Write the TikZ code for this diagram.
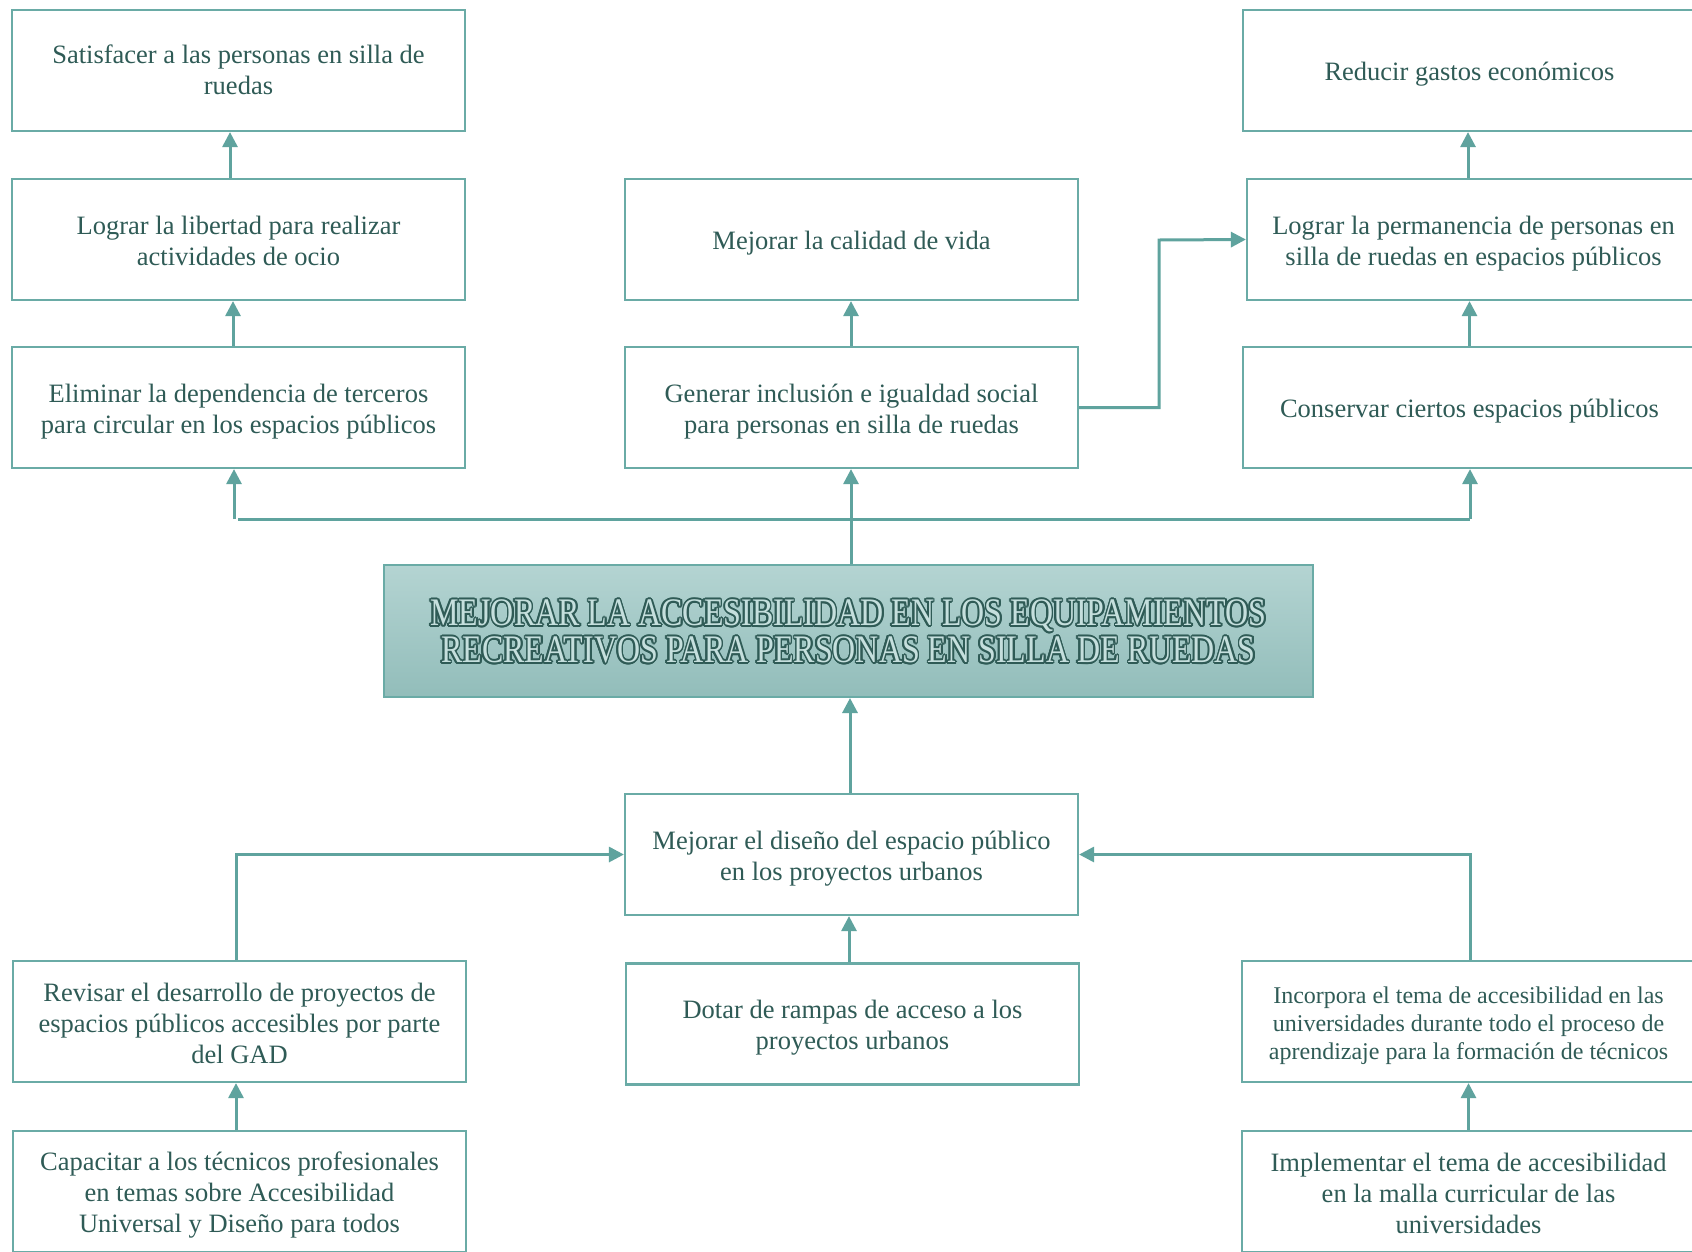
\documentclass[tikz,border=0pt]{standalone}
\usepackage{fontspec}
\setmainfont{Liberation Serif}
\newfontfamily\condfont[FakeStretch=0.82]{Liberation Serif}
\usetikzlibrary{arrows.meta,calc}
\definecolor{lineC}{HTML}{5FA39E}
\definecolor{boxC}{HTML}{6AABA6}
\definecolor{txtC}{HTML}{2F5B56}
\definecolor{topC}{HTML}{B4D4D2}
\definecolor{botC}{HTML}{92BDBA}
\definecolor{inC}{HTML}{C5DFDD}
\begin{document}
\begin{tikzpicture}[x=1pt,y=-1pt,
 boxframe/.style={draw=boxC,line width=2.2pt,fill=white,minimum width=453pt,minimum height=121pt,inner sep=0pt},
 lbl/.style={align=center,text=txtC,font=\fontsize{26.5}{31}\selectfont,inner sep=0pt,yshift=-3.8pt},
 lblsmall/.style={lbl,font=\fontsize{24}{28}\selectfont},
 box/.style={boxframe,label={[lbl]center:{#1}}},
 boxs/.style 2 args={boxframe,label={[lbl,yshift=#2]center:{#1}}},
 smallbox/.style={boxframe,label={[lblsmall]center:{#1}}},
 arr/.style={draw=lineC,line width=3pt,-{Triangle[length=15pt,width=15pt]}},
 ln/.style={draw=lineC,line width=3pt},
 ctext/.style={align=center,inner sep=0pt,font=\condfont\fontsize{39}{37}\selectfont}]
\useasboundingbox[fill=white] (0,0) rectangle (1692,1251);

% top-left column
\node[boxs={Satisfacer a las personas en silla de\\ruedas}{4.5pt}] (sat) at (238.5,70.5) {};
\node[boxs={Lograr la libertad para realizar\\actividades de ocio}{2pt}] (lib) at (238.5,239.5) {};
\node[box={Eliminar la dependencia de terceros\\para circular en los espacios públicos}] (elim) at (238.5,407.5) {};
% top-middle
\node[box={Mejorar la calidad de vida}] (cal) at (851.5,239.5) {};
\node[box={Generar inclusión e igualdad social\\para personas en silla de ruedas}] (gen) at (851.5,407.5) {};
% top-right
\node[box={Reducir gastos económicos}] (red) at (1469.5,70.5) {};
\node[box={Lograr la permanencia de personas en\\silla de ruedas en espacios públicos}] (perm) at (1473.5,239.5) {};
\node[box={Conservar ciertos espacios públicos}] (cons) at (1469.5,407.5) {};

% central
\node[draw=boxC,line width=2pt,top color=topC,bottom color=botC,minimum width=929pt,minimum height=132pt] (central) at (848.5,631) {};
\foreach \ang in {0,22.5,...,337.5}
  \node[ctext,text=txtC] at ($(848.5,631.5)+(\ang:1.7)$) {MEJORAR LA ACCESIBILIDAD EN LOS EQUIPAMIENTOS\\RECREATIVOS PARA PERSONAS EN SILLA DE RUEDAS};
\node[ctext,text=inC] (ctitle) at (848.5,631.5) {MEJORAR LA ACCESIBILIDAD EN LOS EQUIPAMIENTOS\\RECREATIVOS PARA PERSONAS EN SILLA DE RUEDAS};

% bottom
\node[box={Mejorar el diseño del espacio público\\en los proyectos urbanos}] (dis) at (851.5,854.5) {};
\node[boxs={Revisar el desarrollo de proyectos de\\espacios públicos accesibles por parte\\del GAD}{2pt}] (rev) at (239.5,1021.5) {};
\node[box={Dotar de rampas de acceso a los\\proyectos urbanos}] (dot) at (852.5,1024) {};
\node[smallbox={Incorpora el tema de accesibilidad en las\\universidades durante todo el proceso de\\aprendizaje para la formación de técnicos}] (inc) at (1468.5,1021.5) {};
\node[box={Capacitar a los técnicos profesionales\\en temas sobre Accesibilidad\\Universal y Diseño para todos}] (cap) at (239.5,1191.5) {};
\node[boxs={Implementar el tema de accesibilidad\\en la malla curricular de las\\universidades}{1.5pt}] (imp) at (1468.5,1191.5) {};

% connectors top
\draw[arr] ([xshift=-8.5pt]lib.north) -- ([xshift=-8.5pt]sat.south);
\draw[arr] ([xshift=-5.5pt]elim.north) -- ([xshift=-5.5pt]lib.south);
\coordinate (busL) at (234,519);
\coordinate (busLh) at (238,519);
\coordinate (busR) at (1470,519);
\draw[arr] (busL) -- (elim.south -| busL);
\draw[ln] (busLh) -- (busR);
\draw[arr] (busR) -- (cons.south -| busR);
\draw[arr] ([xshift=-0.5pt]gen.south |- central.north) -- ([xshift=-0.5pt]gen.south);
\draw[arr] ([xshift=-0.5pt]gen.north) -- ([xshift=-0.5pt]cal.south);
\coordinate (genturn) at (1159,240);
\draw[arr] (gen.east) -| (genturn) -- (perm.west);
\draw[arr] (cons.north) -- (cons.north |- perm.south);
\draw[arr] ([xshift=-1.5pt]red.south |- perm.north) -- ([xshift=-1.5pt]red.south);

% connectors bottom
\draw[arr] ([xshift=-1.5pt]dis.north) -- ([xshift=-1.5pt]dis.north |- central.south);
\draw[arr] ([xshift=-3.5pt]dot.north) -- ([xshift=-3.5pt]dot.north |- dis.south);
\draw[arr] ([xshift=-3.5pt]rev.north) |- (dis.west);
\draw[arr] ([xshift=1.5pt]inc.north) |- (dis.east);
\draw[arr] ([xshift=-3.5pt]cap.north) -- ([xshift=-3.5pt]rev.south);
\draw[arr] (imp.north) -- (inc.south);
\end{tikzpicture}
\end{document}
